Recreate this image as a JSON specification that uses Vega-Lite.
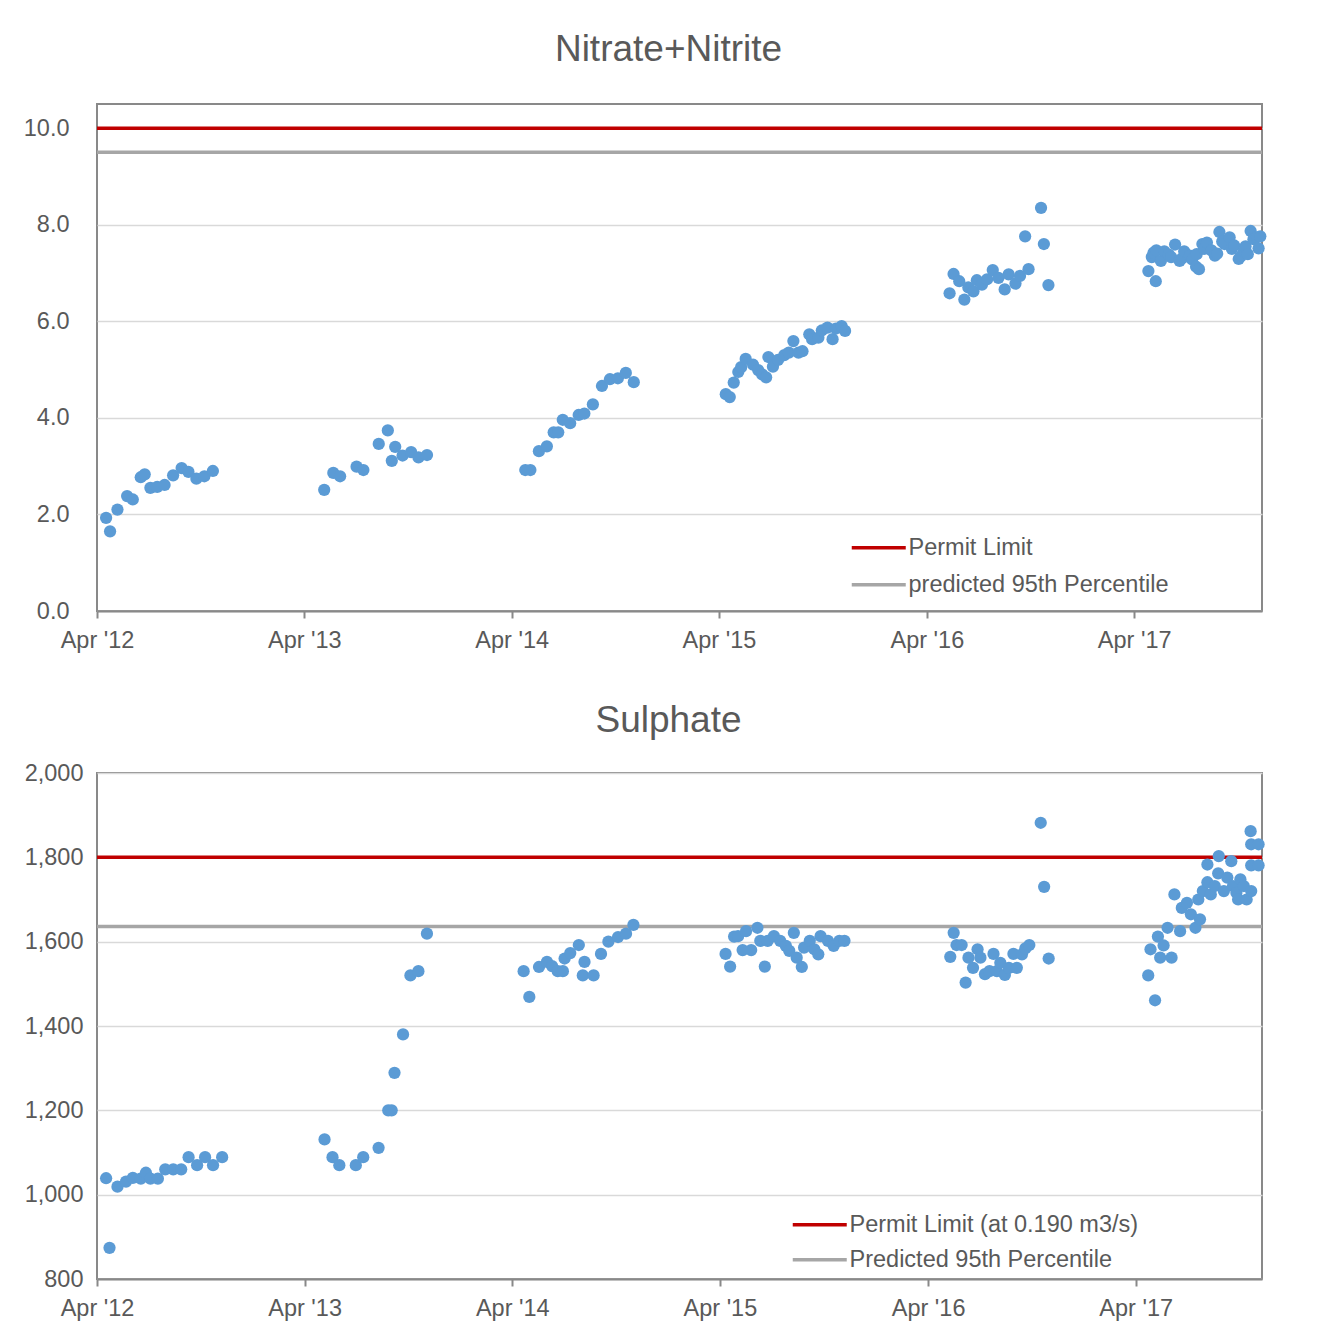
{
  "$schema": "https://vega.github.io/schema/vega-lite/v6.json",
  "padding": {"left": 22, "top": 30, "right": 5, "bottom": 5},
  "background": "white",
  "config": {
    "font": "Liberation Sans",
    "view": {"stroke": "#898989", "strokeWidth": 2},
    "axis": {"labelFont": "Liberation Sans", "labelFontSize": 23.5, "labelColor": "#595959", "gridColor": "#D9D9D9", "gridWidth": 1.5, "domainColor": "#898989", "domainWidth": 2, "tickColor": "#898989", "tickWidth": 2, "title": null},
    "title": {"font": "Liberation Sans", "fontSize": 37, "fontWeight": "normal", "color": "#595959", "frame": "group", "anchor": "middle"},
    "legend": {"orient": "none", "labelFont": "Liberation Sans", "labelFontSize": 23.5, "labelColor": "#595959", "labelLimit": 0, "symbolType": "M-3,0H3", "symbolSize": 324, "symbolStrokeWidth": 3.5, "labelOffset": 18, "rowPadding": 12, "padding": 0, "title": null}
  },
  "datasets": {
    "nitrate": [
      {"d": "2012-04-17", "v": 1.93}, {"d": "2012-04-24", "v": 1.65}, {"d": "2012-05-07", "v": 2.10}, {"d": "2012-05-24", "v": 2.38},
      {"d": "2012-06-03", "v": 2.31}, {"d": "2012-06-17", "v": 2.77}, {"d": "2012-06-24", "v": 2.83}, {"d": "2012-07-04", "v": 2.55},
      {"d": "2012-07-16", "v": 2.57}, {"d": "2012-07-29", "v": 2.61}, {"d": "2012-08-13", "v": 2.81}, {"d": "2012-08-28", "v": 2.96},
      {"d": "2012-09-09", "v": 2.88}, {"d": "2012-09-23", "v": 2.74}, {"d": "2012-10-07", "v": 2.79}, {"d": "2012-10-22", "v": 2.90},
      {"d": "2013-05-06", "v": 2.51}, {"d": "2013-05-22", "v": 2.86}, {"d": "2013-06-03", "v": 2.79}, {"d": "2013-07-02", "v": 2.99},
      {"d": "2013-07-14", "v": 2.92}, {"d": "2013-08-10", "v": 3.46}, {"d": "2013-08-26", "v": 3.74}, {"d": "2013-09-02", "v": 3.11},
      {"d": "2013-09-08", "v": 3.40}, {"d": "2013-09-21", "v": 3.22}, {"d": "2013-10-06", "v": 3.29}, {"d": "2013-10-19", "v": 3.18},
      {"d": "2013-11-03", "v": 3.23},
      {"d": "2014-04-25", "v": 2.92}, {"d": "2014-05-04", "v": 2.92}, {"d": "2014-05-19", "v": 3.31}, {"d": "2014-06-02", "v": 3.41},
      {"d": "2014-06-14", "v": 3.70}, {"d": "2014-06-22", "v": 3.70}, {"d": "2014-06-30", "v": 3.96}, {"d": "2014-07-13", "v": 3.89},
      {"d": "2014-07-28", "v": 4.06}, {"d": "2014-08-07", "v": 4.09}, {"d": "2014-08-22", "v": 4.28}, {"d": "2014-09-07", "v": 4.66},
      {"d": "2014-09-21", "v": 4.80}, {"d": "2014-10-05", "v": 4.82}, {"d": "2014-10-19", "v": 4.93}, {"d": "2014-11-02", "v": 4.74},
      {"d": "2015-04-13", "v": 4.49}, {"d": "2015-04-20", "v": 4.43}, {"d": "2015-04-27", "v": 4.73}, {"d": "2015-05-05", "v": 4.95},
      {"d": "2015-05-10", "v": 5.05}, {"d": "2015-05-18", "v": 5.22}, {"d": "2015-05-31", "v": 5.10}, {"d": "2015-06-09", "v": 4.99},
      {"d": "2015-06-16", "v": 4.90}, {"d": "2015-06-23", "v": 4.84}, {"d": "2015-06-27", "v": 5.26}, {"d": "2015-07-05", "v": 5.06},
      {"d": "2015-07-14", "v": 5.20}, {"d": "2015-07-25", "v": 5.30}, {"d": "2015-08-02", "v": 5.35}, {"d": "2015-08-10", "v": 5.59},
      {"d": "2015-08-19", "v": 5.35}, {"d": "2015-08-26", "v": 5.38}, {"d": "2015-09-07", "v": 5.73}, {"d": "2015-09-12", "v": 5.63},
      {"d": "2015-09-23", "v": 5.66}, {"d": "2015-09-29", "v": 5.81}, {"d": "2015-10-09", "v": 5.87}, {"d": "2015-10-18", "v": 5.63},
      {"d": "2015-10-24", "v": 5.85}, {"d": "2015-11-03", "v": 5.90}, {"d": "2015-11-09", "v": 5.80},
      {"d": "2016-05-11", "v": 6.58}, {"d": "2016-05-18", "v": 6.98}, {"d": "2016-05-28", "v": 6.83}, {"d": "2016-06-06", "v": 6.45},
      {"d": "2016-06-13", "v": 6.70}, {"d": "2016-06-22", "v": 6.62}, {"d": "2016-06-28", "v": 6.85}, {"d": "2016-07-07", "v": 6.76},
      {"d": "2016-07-16", "v": 6.87}, {"d": "2016-07-26", "v": 7.06}, {"d": "2016-08-05", "v": 6.90}, {"d": "2016-08-16", "v": 6.66},
      {"d": "2016-08-23", "v": 6.97}, {"d": "2016-09-04", "v": 6.78}, {"d": "2016-09-12", "v": 6.94}, {"d": "2016-09-21", "v": 7.76},
      {"d": "2016-09-27", "v": 7.08}, {"d": "2016-10-19", "v": 8.35}, {"d": "2016-10-24", "v": 7.60}, {"d": "2016-11-01", "v": 6.75},
      {"d": "2017-04-26", "v": 7.04}, {"d": "2017-05-02", "v": 7.33}, {"d": "2017-05-05", "v": 7.42}, {"d": "2017-05-09", "v": 6.83},
      {"d": "2017-05-10", "v": 7.47}, {"d": "2017-05-18", "v": 7.25}, {"d": "2017-05-24", "v": 7.45}, {"d": "2017-06-01", "v": 7.38},
      {"d": "2017-06-05", "v": 7.33}, {"d": "2017-06-12", "v": 7.59}, {"d": "2017-06-20", "v": 7.25}, {"d": "2017-06-24", "v": 7.30},
      {"d": "2017-06-28", "v": 7.45}, {"d": "2017-07-08", "v": 7.36}, {"d": "2017-07-12", "v": 7.28}, {"d": "2017-07-19", "v": 7.13},
      {"d": "2017-07-20", "v": 7.39}, {"d": "2017-07-24", "v": 7.08}, {"d": "2017-07-30", "v": 7.60}, {"d": "2017-08-02", "v": 7.50},
      {"d": "2017-08-07", "v": 7.63}, {"d": "2017-08-15", "v": 7.47}, {"d": "2017-08-21", "v": 7.36}, {"d": "2017-08-25", "v": 7.40},
      {"d": "2017-08-29", "v": 7.85}, {"d": "2017-09-03", "v": 7.65}, {"d": "2017-09-07", "v": 7.60}, {"d": "2017-09-16", "v": 7.74},
      {"d": "2017-09-20", "v": 7.50}, {"d": "2017-09-24", "v": 7.57}, {"d": "2017-10-02", "v": 7.29}, {"d": "2017-10-06", "v": 7.35},
      {"d": "2017-10-11", "v": 7.45}, {"d": "2017-10-14", "v": 7.55}, {"d": "2017-10-18", "v": 7.39}, {"d": "2017-10-23", "v": 7.87},
      {"d": "2017-10-28", "v": 7.70}, {"d": "2017-11-03", "v": 7.74}, {"d": "2017-11-06", "v": 7.51}, {"d": "2017-11-09", "v": 7.76}
    ],
    "nitrateLines": [
      {"series": "Permit Limit", "v": 10.0},
      {"series": "predicted 95th Percentile", "v": 9.5}
    ],
    "sulphate": [
      {"d": "2012-04-17", "v": 1039}, {"d": "2012-04-23", "v": 874}, {"d": "2012-05-07", "v": 1019}, {"d": "2012-05-22", "v": 1031},
      {"d": "2012-06-03", "v": 1040}, {"d": "2012-06-17", "v": 1038}, {"d": "2012-06-26", "v": 1052}, {"d": "2012-07-04", "v": 1038},
      {"d": "2012-07-17", "v": 1038}, {"d": "2012-07-30", "v": 1060}, {"d": "2012-08-13", "v": 1060}, {"d": "2012-08-27", "v": 1060},
      {"d": "2012-09-09", "v": 1089}, {"d": "2012-09-24", "v": 1070}, {"d": "2012-10-08", "v": 1089}, {"d": "2012-10-22", "v": 1070},
      {"d": "2012-11-07", "v": 1089},
      {"d": "2013-05-06", "v": 1131}, {"d": "2013-05-20", "v": 1089}, {"d": "2013-06-01", "v": 1070}, {"d": "2013-06-30", "v": 1070},
      {"d": "2013-07-13", "v": 1089}, {"d": "2013-08-09", "v": 1111}, {"d": "2013-08-26", "v": 1200}, {"d": "2013-09-01", "v": 1200},
      {"d": "2013-09-06", "v": 1289}, {"d": "2013-09-21", "v": 1380}, {"d": "2013-10-04", "v": 1520}, {"d": "2013-10-18", "v": 1530},
      {"d": "2013-11-02", "v": 1619},
      {"d": "2014-04-21", "v": 1530}, {"d": "2014-05-01", "v": 1469}, {"d": "2014-05-18", "v": 1540}, {"d": "2014-06-01", "v": 1552},
      {"d": "2014-06-10", "v": 1542}, {"d": "2014-06-20", "v": 1530}, {"d": "2014-06-29", "v": 1530}, {"d": "2014-07-02", "v": 1560},
      {"d": "2014-07-12", "v": 1573}, {"d": "2014-07-27", "v": 1592}, {"d": "2014-08-03", "v": 1520}, {"d": "2014-08-06", "v": 1552},
      {"d": "2014-08-22", "v": 1520}, {"d": "2014-09-04", "v": 1571}, {"d": "2014-09-17", "v": 1600}, {"d": "2014-10-04", "v": 1611},
      {"d": "2014-10-18", "v": 1619}, {"d": "2014-10-31", "v": 1640},
      {"d": "2015-04-11", "v": 1571}, {"d": "2015-04-19", "v": 1541}, {"d": "2015-04-26", "v": 1612}, {"d": "2015-05-03", "v": 1613},
      {"d": "2015-05-11", "v": 1580}, {"d": "2015-05-17", "v": 1625}, {"d": "2015-05-26", "v": 1580}, {"d": "2015-06-06", "v": 1633},
      {"d": "2015-06-11", "v": 1602}, {"d": "2015-06-19", "v": 1541}, {"d": "2015-06-24", "v": 1602}, {"d": "2015-07-05", "v": 1613},
      {"d": "2015-07-16", "v": 1602}, {"d": "2015-07-26", "v": 1590}, {"d": "2015-08-01", "v": 1578}, {"d": "2015-08-09", "v": 1621},
      {"d": "2015-08-14", "v": 1562}, {"d": "2015-08-23", "v": 1540}, {"d": "2015-08-27", "v": 1586}, {"d": "2015-09-06", "v": 1602},
      {"d": "2015-09-14", "v": 1582}, {"d": "2015-09-21", "v": 1570}, {"d": "2015-09-25", "v": 1613}, {"d": "2015-10-08", "v": 1602},
      {"d": "2015-10-18", "v": 1590}, {"d": "2015-10-28", "v": 1602}, {"d": "2015-11-06", "v": 1602},
      {"d": "2016-05-10", "v": 1564}, {"d": "2016-05-16", "v": 1621}, {"d": "2016-05-21", "v": 1592}, {"d": "2016-05-30", "v": 1592},
      {"d": "2016-06-06", "v": 1503}, {"d": "2016-06-11", "v": 1562}, {"d": "2016-06-19", "v": 1538}, {"d": "2016-06-27", "v": 1582},
      {"d": "2016-07-02", "v": 1562}, {"d": "2016-07-10", "v": 1523}, {"d": "2016-07-18", "v": 1530}, {"d": "2016-07-25", "v": 1571},
      {"d": "2016-07-31", "v": 1530}, {"d": "2016-08-06", "v": 1550}, {"d": "2016-08-14", "v": 1521}, {"d": "2016-08-21", "v": 1538},
      {"d": "2016-08-29", "v": 1571}, {"d": "2016-09-04", "v": 1538}, {"d": "2016-09-13", "v": 1570}, {"d": "2016-09-19", "v": 1584},
      {"d": "2016-09-26", "v": 1592}, {"d": "2016-10-16", "v": 1882}, {"d": "2016-10-22", "v": 1730}, {"d": "2016-10-30", "v": 1560},
      {"d": "2017-04-23", "v": 1520}, {"d": "2017-04-27", "v": 1582}, {"d": "2017-05-05", "v": 1461}, {"d": "2017-05-10", "v": 1612},
      {"d": "2017-05-14", "v": 1562}, {"d": "2017-05-20", "v": 1591}, {"d": "2017-05-27", "v": 1633}, {"d": "2017-06-03", "v": 1562},
      {"d": "2017-06-08", "v": 1712}, {"d": "2017-06-18", "v": 1625}, {"d": "2017-06-21", "v": 1680}, {"d": "2017-06-30", "v": 1692},
      {"d": "2017-07-07", "v": 1665}, {"d": "2017-07-15", "v": 1633}, {"d": "2017-07-20", "v": 1700}, {"d": "2017-07-23", "v": 1653},
      {"d": "2017-07-28", "v": 1720}, {"d": "2017-08-05", "v": 1741}, {"d": "2017-08-05", "v": 1783}, {"d": "2017-08-11", "v": 1712},
      {"d": "2017-08-18", "v": 1732}, {"d": "2017-08-24", "v": 1762}, {"d": "2017-08-25", "v": 1803}, {"d": "2017-09-03", "v": 1720},
      {"d": "2017-09-09", "v": 1752}, {"d": "2017-09-16", "v": 1791}, {"d": "2017-09-19", "v": 1732}, {"d": "2017-09-25", "v": 1716},
      {"d": "2017-09-28", "v": 1700}, {"d": "2017-10-02", "v": 1748}, {"d": "2017-10-08", "v": 1732}, {"d": "2017-10-13", "v": 1700},
      {"d": "2017-10-20", "v": 1862}, {"d": "2017-10-21", "v": 1831}, {"d": "2017-10-21", "v": 1781}, {"d": "2017-10-21", "v": 1720},
      {"d": "2017-11-03", "v": 1831}, {"d": "2017-11-03", "v": 1781}
    ],
    "sulphateLines": [
      {"series": "Permit Limit (at 0.190 m3/s)", "v": 1800},
      {"series": "Predicted 95th Percentile", "v": 1636}
    ]
  },
  "vconcat": [
    {
      "width": 1165,
      "height": 507,
      "title": {"text": "Nitrate+Nitrite", "offset": 35, "dx": -11},
      "layer": [
        {
          "data": {"name": "nitrateLines"},
          "mark": {"type": "rule", "strokeWidth": 3.5},
          "encoding": {
            "y": {"field": "v", "type": "quantitative", "scale": {"domain": [0, 10.5], "nice": false, "zero": false},
                  "axis": {"values": [0, 2, 4, 6, 8, 10], "format": ".1f", "ticks": false, "domain": false, "labelPadding": 28}},
            "color": {"field": "series", "type": "nominal",
                      "scale": {"domain": ["Permit Limit", "predicted 95th Percentile"], "range": ["#C00000", "#A6A6A6"]},
                      "legend": {"legendX": 770, "legendY": 432}}
          }
        },
        {
          "data": {"name": "nitrate"},
          "mark": {"type": "circle", "size": 150, "opacity": 1, "color": "#5B9BD5"},
          "encoding": {
            "x": {"field": "d", "type": "temporal",
                  "scale": {"type": "utc", "domain": [{"year": 2012, "month": 4, "date": 1, "utc": true}, {"year": 2017, "month": 11, "date": 12, "utc": true}]},
                  "axis": {"values": [{"year": 2012, "month": 4, "date": 1, "utc": true}, {"year": 2013, "month": 4, "date": 1, "utc": true}, {"year": 2014, "month": 4, "date": 1, "utc": true}, {"year": 2015, "month": 4, "date": 1, "utc": true}, {"year": 2016, "month": 4, "date": 1, "utc": true}, {"year": 2017, "month": 4, "date": 1, "utc": true}],
                           "format": "%b '%y", "grid": false, "tickSize": 7, "labelPadding": 10, "labelFlush": false}},
            "y": {"field": "v", "type": "quantitative"}
          }
        }
      ]
    },
    {
      "width": 1165,
      "height": 506,
      "title": {"text": "Sulphate", "offset": 21, "dx": -11},
      "layer": [
        {
          "data": {"name": "sulphateLines"},
          "mark": {"type": "rule", "strokeWidth": 3.5},
          "encoding": {
            "y": {"field": "v", "type": "quantitative", "scale": {"domain": [800, 2000], "nice": false, "zero": false},
                  "axis": {"values": [800, 1000, 1200, 1400, 1600, 1800, 2000], "format": ",.0f", "ticks": false, "domain": false, "labelPadding": 14}},
            "color": {"field": "series", "type": "nominal",
                      "scale": {"domain": ["Permit Limit (at 0.190 m3/s)", "Predicted 95th Percentile"], "range": ["#C00000", "#A6A6A6"]},
                      "legend": {"legendX": 711, "legendY": 440, "rowPadding": 10}}
          }
        },
        {
          "data": {"name": "sulphate"},
          "mark": {"type": "circle", "size": 150, "opacity": 1, "color": "#5B9BD5"},
          "encoding": {
            "x": {"field": "d", "type": "temporal",
                  "scale": {"type": "utc", "domain": [{"year": 2012, "month": 4, "date": 1, "utc": true}, {"year": 2017, "month": 11, "date": 9, "utc": true}]},
                  "axis": {"values": [{"year": 2012, "month": 4, "date": 1, "utc": true}, {"year": 2013, "month": 4, "date": 1, "utc": true}, {"year": 2014, "month": 4, "date": 1, "utc": true}, {"year": 2015, "month": 4, "date": 1, "utc": true}, {"year": 2016, "month": 4, "date": 1, "utc": true}, {"year": 2017, "month": 4, "date": 1, "utc": true}],
                           "format": "%b '%y", "grid": false, "tickSize": 7, "labelPadding": 10, "labelFlush": false}},
            "y": {"field": "v", "type": "quantitative"}
          }
        }
      ]
    }
  ],
  "spacing": 48,
  "resolve": {"scale": {"color": "independent", "x": "independent", "y": "independent"}, "legend": {"color": "independent"}}
}
